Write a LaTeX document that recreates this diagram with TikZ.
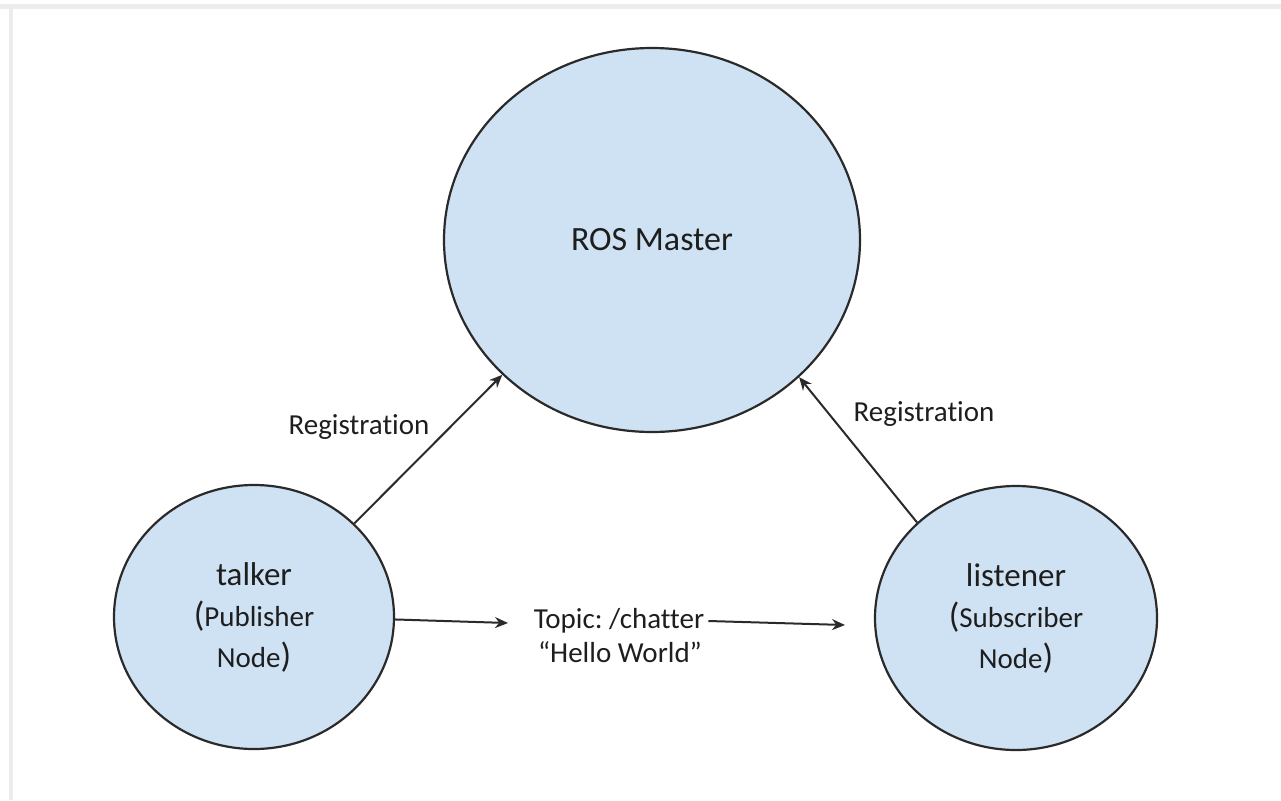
\documentclass[tikz,border=0pt]{standalone}
\usepackage{fontspec}
\setmainfont{Carlito}[Ligatures=NoCommon]
\usetikzlibrary{shapes.geometric,arrows.meta}
\definecolor{nodefill}{HTML}{CFE2F3}
\definecolor{edge}{HTML}{2A2A2A}
\definecolor{ink}{HTML}{1E1E1E}
\definecolor{frame}{HTML}{ECECEC}
\frenchspacing
\begin{document}
\begin{tikzpicture}[x=1pt,y=-1pt,
  rosnode/.style={ellipse,draw=edge,fill=nodefill,line width=2.2pt,inner sep=0pt,
    text=ink,align=center},
  lbl/.style={text=ink,font=\fontsize{29}{31}\selectfont,inner sep=0pt,align=center},
  link/.style={draw=edge,line width=2pt,-{Stealth[length=13pt,width=11pt]}}]
\useasboundingbox (0,0) rectangle (1281,800);
% light frame along the top and left edges
\fill[frame] (0,4) rectangle (1281,9);
\fill[frame] (9,4) rectangle (13,800);

\node[rosnode,minimum width=416pt,minimum height=384pt,
  font=\fontsize{34}{40}\selectfont] (master) at (652,240) {ROS Master};
\node[rosnode,minimum width=280pt,minimum height=264pt,
  font=\fontsize{29}{41}\selectfont] (talker) at (254,617)
  {{\fontsize{33}{41}\selectfont talker}\\{\fontsize{35}{41}\selectfont(}Publisher\\Node{\fontsize{35}{41}\selectfont)}};
\node[rosnode,minimum width=282pt,minimum height=264pt,
  font=\fontsize{29}{41}\selectfont] (listener) at (1016,618)
  {{\fontsize{33}{41}\selectfont listener}\\{\fontsize{35}{41}\selectfont(}Subscriber\\Node{\fontsize{35}{41}\selectfont)}};

\node[lbl] (regl) at (359,427) {Registration};
\node[lbl] (regr) at (924,414) {Registration};
\node[lbl] (topic) at (619,621) {Topic: /chatter};
\node[lbl] (msg) at (620,652) {“Hello World”};

\coordinate (topicin) at (508,623);
\coordinate (topicout) at (845,625);

\draw[link] (talker.43.5) -- (master.222.2);
\draw[link] (listener.136.2) -- (master.317);
\draw[link] (talker.-1.5) -- (topicin);
\draw[link] ([xshift=4pt]topic.east) -- (topicout);
\end{tikzpicture}
\end{document}
